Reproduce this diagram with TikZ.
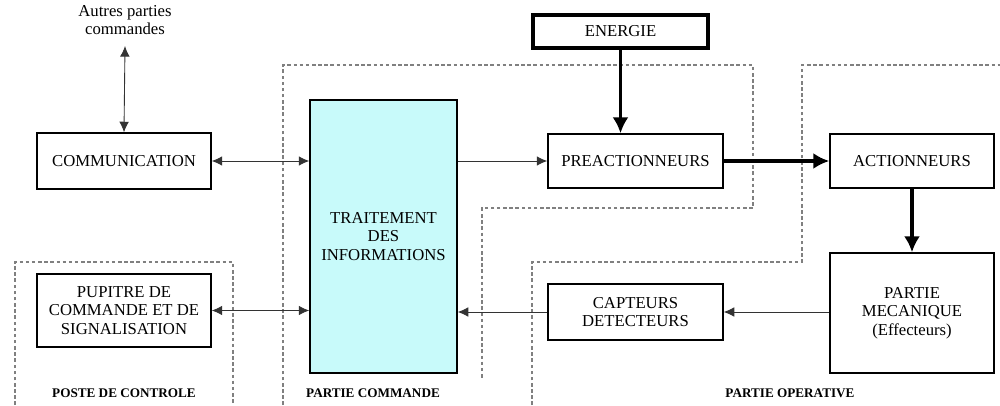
\documentclass[tikz,border=0pt]{standalone}
\usepackage{fontspec}
\setmainfont{Liberation Serif}
\usepackage{tikz}
\usetikzlibrary{positioning,arrows.meta}

\definecolor{cyantrait}{HTML}{C8FAFA}

\begin{document}
\begin{tikzpicture}[>={Latex[length=6pt,width=5.5pt]},
    bloc/.style={draw, line width=0.8pt, align=center, inner sep=0pt, font=\fontsize{9.5}{10.5}\selectfont},
    zone/.style={draw=gray, line width=0.9pt, dash pattern=on 2pt off 1.5pt},
    titre/.style={font=\fontsize{7.5}{9}\selectfont\bfseries},
    fin/.style={draw=black!80, line width=0.5pt},
    fort/.style={draw, line width=1.8pt, >={Latex[length=9pt,width=9pt]}}]
    \useasboundingbox (0,0) rectangle (20,8.1);
    % zones en pointilles
    \draw[zone] (0.3,0) -- (0.3,2.86) -- (4.66,2.86) -- (4.66,0);
    \draw[zone] (5.66,0) -- (5.66,6.8) -- (15.06,6.8) -- (15.06,3.94) -- (9.64,3.94) -- (9.64,0.5);
    \draw[zone] (10.64,0) -- (10.64,2.86) -- (16.04,2.86) -- (16.04,6.8) -- (20.2,6.8);
    \node[titre] (poste) at (2.48,0.24) {POSTE DE CONTROLE};
    \node[titre] (pcom) at (7.46,0.24) {PARTIE COMMANDE};
    \node[titre] (pop) at (15.8,0.24) {PARTIE OPERATIVE};
    % blocs
    \node[align=center, font=\fontsize{9.5}{10.5}\selectfont] (autres) at (2.5,7.7) {Autres parties\\commandes};
    \node[bloc, minimum width=3.48cm, minimum height=1.12cm] (comm) at (2.48,4.88) {COMMUNICATION};
    \node[bloc, minimum width=3.48cm, minimum height=1.46cm] (pupitre) at (2.48,1.89) {PUPITRE DE\\COMMANDE ET DE\\SIGNALISATION};
    \node[bloc, fill=cyantrait, minimum width=2.94cm, minimum height=5.46cm] (trait) at (7.67,3.37) {TRAITEMENT\\DES\\INFORMATIONS};
    \node[bloc, line width=2.4pt, minimum width=3.5cm, minimum height=0.66cm] (energie) at (12.41,7.47) {ENERGIE};
    \node[bloc, minimum width=3.5cm, minimum height=1.08cm] (preact) at (12.71,4.88) {PREACTIONNEURS};
    \node[bloc, minimum width=3.5cm, minimum height=1.12cm] (capteur) at (12.71,1.86) {CAPTEURS\\DETECTEURS};
    \node[bloc, minimum width=3.28cm, minimum height=1.08cm] (action) at (18.24,4.88) {ACTIONNEURS};
    \node[bloc, minimum width=3.28cm, minimum height=2.4cm] (meca) at (18.24,1.84) {PARTIE\\MECANIQUE\\(Effecteurs)};
    % liaisons
    \coordinate (a1) at ([yshift=-0.1cm]autres.south);
    \draw[fin, <->] (a1) -- (comm.north);
    \draw[fin, <->] (comm.east) -- (trait.west |- comm.east);
    \draw[fin, <->] (pupitre.east) -- (trait.west |- pupitre.east);
    \draw[fin, ->] (trait.east |- preact.west) -- (preact.west);
    \draw[fin, ->] (capteur.west) -- (trait.east |- capteur.west);
    \draw[fin, ->] (meca.west |- capteur.east) -- (capteur.east);
    \draw[fort, ->] (energie.south) -- (energie.south |- preact.north);
    \draw[fort, ->] (preact.east) -- (action.west);
    \draw[fort, ->] (action.south) -- (meca.north);
\end{tikzpicture}
\end{document}
